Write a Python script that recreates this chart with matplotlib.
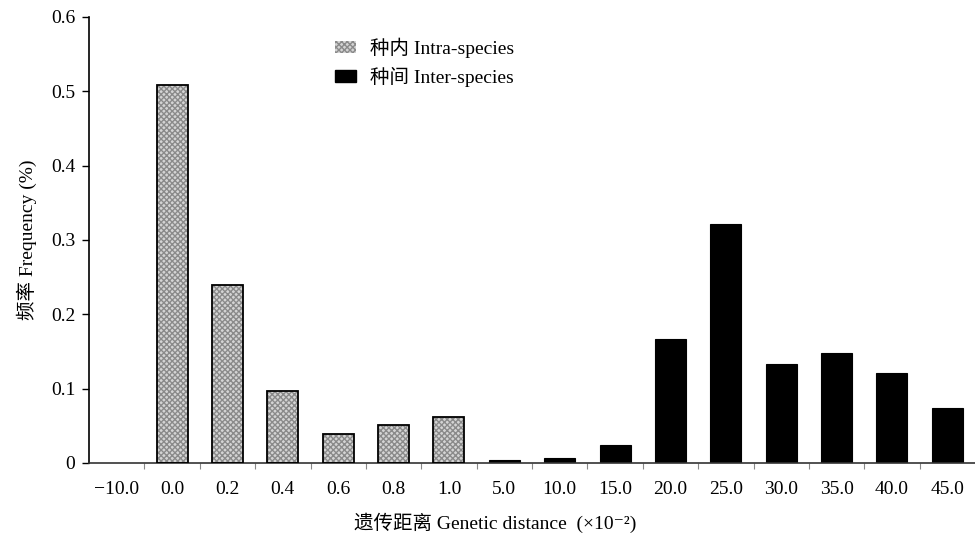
import numpy as np
import matplotlib
matplotlib.use('Agg')
import matplotlib.pyplot as plt
from matplotlib.patches import Patch

plt.rcParams['font.family'] = ['Liberation Serif', 'Noto Sans CJK SC', 'DejaVu Sans']

# 数据
categories = ['\u221210.0', '0.0', '0.2', '0.4', '0.6', '0.8', '1.0', '5.0', '10.0',
              '15.0', '20.0', '25.0', '30.0', '35.0', '40.0', '45.0']
intra_values = [0.0, 0.509, 0.240, 0.097, 0.039, 0.051, 0.062, 0, 0, 0, 0, 0, 0, 0, 0, 0]
inter_values = [0.0, 0, 0, 0, 0, 0, 0, 0.004, 0.007, 0.024, 0.167, 0.322, 0.133, 0.148, 0.121, 0.074]
yticks = [0, 0.1, 0.2, 0.3, 0.4, 0.5, 0.6]
ytick_labels = ['0', '0.1', '0.2', '0.3', '0.4', '0.5', '0.6']

fig = plt.figure(figsize=(9.75, 5.36), dpi=100)
ax = fig.add_axes([0.0913, 0.1362, 0.9087, 0.8321])

x = np.arange(len(categories))
w = 0.56
intra = np.array(intra_values)
inter = np.array(inter_values)
mi = intra > 0
mo = inter > 0

# 种内：网纹填充 + 黑色边框
ax.bar(x[mi], intra[mi], width=w, color='#d4d4d4', edgecolor='#8a8a8a',
       hatch='xxxxxx', linewidth=0, zorder=2)
ax.bar(x[mi], intra[mi], width=w, fill=False, edgecolor='black', linewidth=1.3, zorder=3)
# 种间：黑色
ax.bar(x[mo], inter[mo], width=w, color='black', edgecolor='black', linewidth=0.8, zorder=2)

ax.set_xlim(-0.5, len(categories) - 0.5)
ax.set_ylim(0, 0.6)
ax.set_yticks(yticks)
ax.set_yticklabels(ytick_labels, fontsize=14)
ax.set_xticks(x)
ax.set_xticklabels(categories, fontsize=14)
ax.tick_params(axis='x', length=0, pad=13)
ax.set_xticks(np.arange(0.5, len(categories) - 0.5), minor=True)
ax.tick_params(axis='x', which='minor', length=4, color='#888888', width=0.8)
ax.tick_params(axis='y', length=5, width=1, direction='out', pad=5)

for s in ['top', 'right']:
    ax.spines[s].set_visible(False)
ax.spines['left'].set_linewidth(1.2)
ax.spines['bottom'].set_linewidth(1.2)
ax.spines['bottom'].set_color('#333333')

ax.set_ylabel('频率 Frequency (%)', fontsize=14, labelpad=10)
ax.set_xlabel('遗传距离 Genetic distance  (×10\u207b\u00b2)', fontsize=14)
ax.xaxis.set_label_coords(0.459, -0.112)

handles = [Patch(facecolor='#d4d4d4', edgecolor='#8a8a8a', hatch='xxxxxx', linewidth=0),
           Patch(facecolor='black', edgecolor='black')]
ax.legend(handles, ['种内 Intra-species', '种间 Inter-species'], loc='upper left',
          bbox_to_anchor=(0.2575, 0.993), frameon=False, fontsize=14,
          handlelength=1.1, handleheight=0.55, handletextpad=0.7, labelspacing=0.45)

fig.savefig('out.png', dpi=100)
